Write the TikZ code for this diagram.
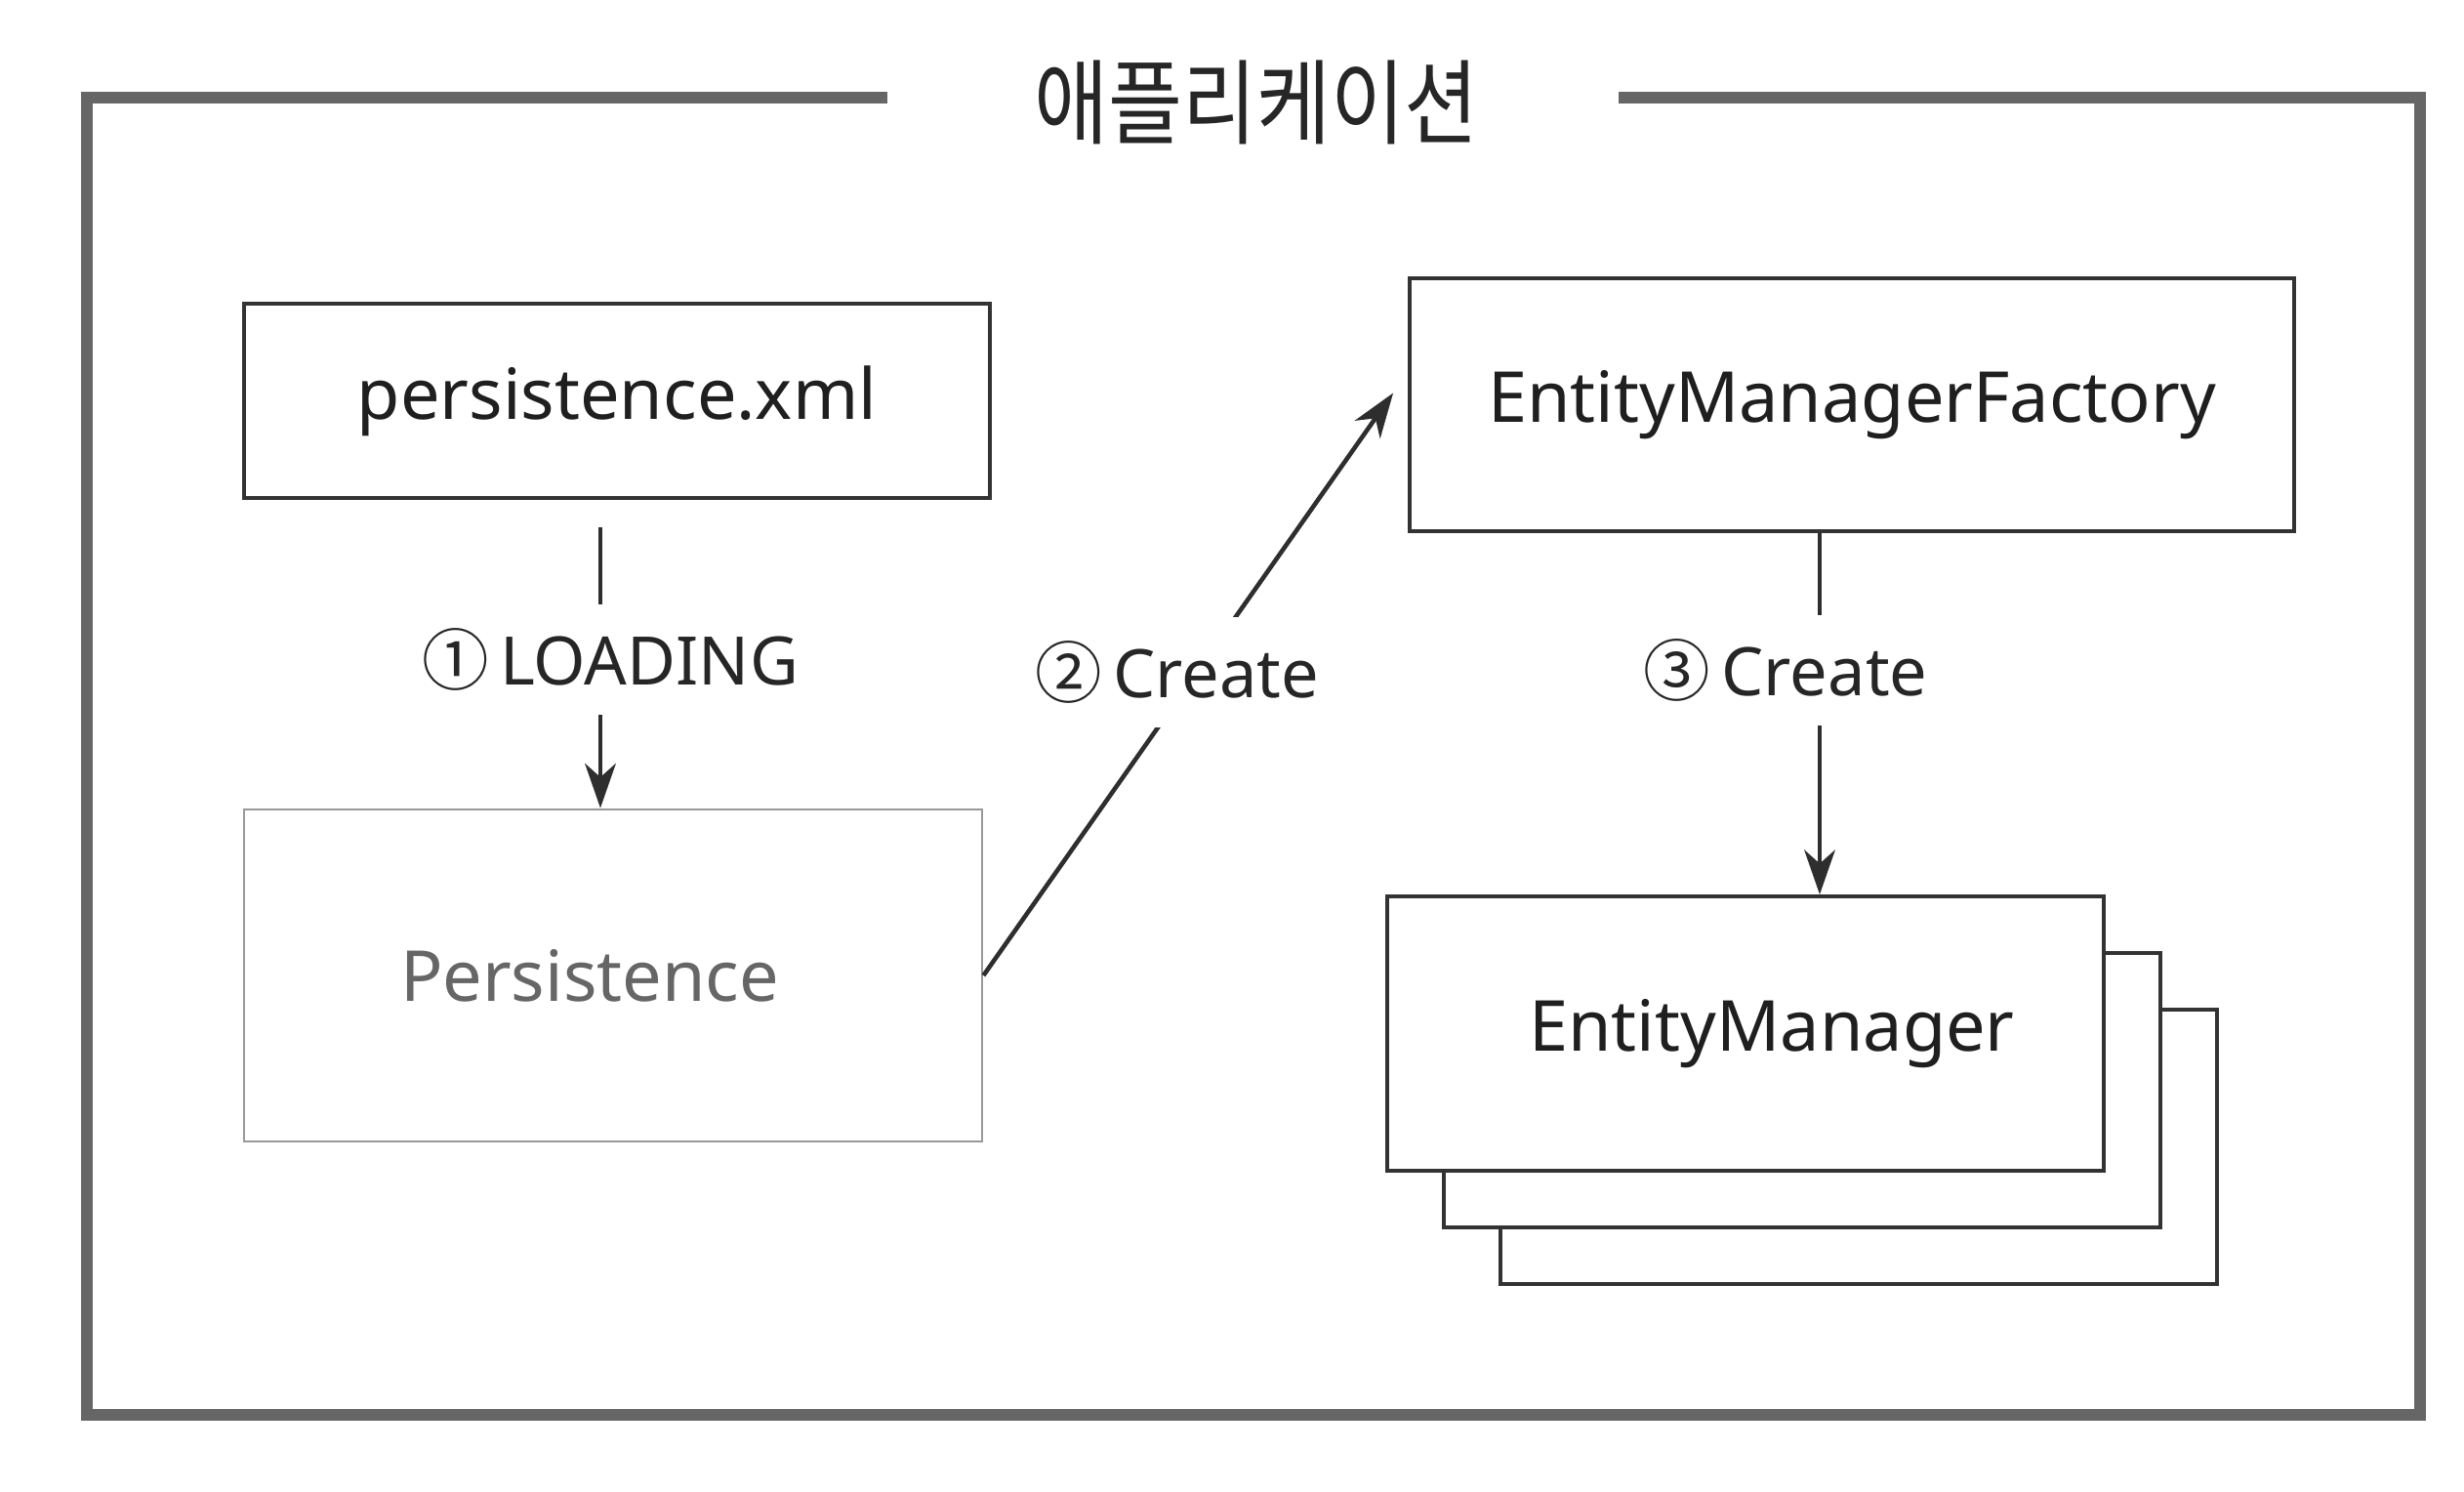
\documentclass[tikz,border=0pt]{standalone}
\usepackage{fontspec}
\usepackage{graphicx}
\setmainfont{Noto Sans}
\newfontfamily\kr{Noto Sans CJK KR}
\usetikzlibrary{arrows.meta,calc}
\begin{document}
\begin{tikzpicture}[
  x=1cm,y=1cm,
  boxtext/.style={font=\fontsize{20.5}{24}\selectfont, text=black!88},
  stdbox/.style={boxtext, draw=black!80, line width=1.1pt, fill=white, inner sep=0pt},
  softbox/.style={font=\fontsize{20.5}{24}\selectfont, text=black!60, draw=black!40, line width=0.8pt, fill=white, inner sep=0pt},
  frameline/.style={draw=black!60, line width=3.6pt, line join=miter},
  arr/.style={draw=black!82, line width=1.3pt, -{Stealth[length=13pt,width=9pt,inset=4pt]}},
  lbl/.style={font=\fontsize{19.5}{23}\selectfont, text=black!85, fill=white, inner xsep=2pt, inner ysep=7pt}
]
\useasboundingbox (0,0) rectangle (25.24,-15.28);

% outer frame with title gap
\coordinate (gl) at (9.09,-1.00);
\coordinate (gr) at (16.58,-1.00);
\draw[frameline] (gl) -- (0.89,-1.00) -- (0.89,-14.49) -- (24.79,-14.49) -- (24.79,-1.00) -- (gr);
\node[font=\kr\fontsize{23.5}{26}\selectfont, text=black!85] (title) at (12.87,-1.05) {\scalebox{1}[1.15]{애플리케이션}};

% boxes
\node[stdbox, minimum width=7.64cm, minimum height=1.99cm] (xml) at (6.32,-4.105) {persistence.xml};
\node[softbox, minimum width=7.56cm, minimum height=3.40cm] (pers) at (6.28,-9.99) {\hspace*{-0.48cm}Persistence};
\node[stdbox, minimum width=9.06cm, minimum height=2.59cm] (emf) at (18.97,-4.145) {EntityManagerFactory};

\node[stdbox, minimum width=7.34cm, minimum height=2.81cm] (em3) at (19.04,-11.745) {};
\node[stdbox, minimum width=7.34cm, minimum height=2.81cm] (em2) at (18.46,-11.165) {};
\node[stdbox, minimum width=7.34cm, minimum height=2.81cm] (em) at (17.88,-10.585) {\hspace*{0.54cm}EntityManager};

% arrow 1
\coordinate (a1) at (6.15,-5.40);
\draw[arr] (a1) -- (a1 |- pers.north)
  node[lbl, pos=0.47, xshift=0.10cm] (l1) {{\kr ①}\,LOADING};

% arrow 2
\coordinate (a2) at ($(emf.west)+(-0.15,0.12)$);
\draw[arr] (pers.east) -- (a2)
  node[lbl, pos=0.52, xshift=-0.20cm] (l2) {{\kr ②}\,Create};

% arrow 3
\coordinate (a3) at ($(emf.south)+(-0.33,0)$);
\draw[arr] (a3) -- (a3 |- em.north)
  node[lbl, pos=0.38, xshift=-0.35cm] (l3) {{\kr ③}\,Create};
\end{tikzpicture}
\end{document}
